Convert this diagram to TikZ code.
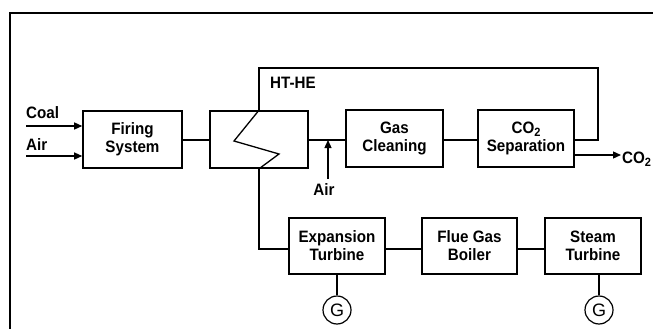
\documentclass[tikz,border=0pt]{standalone}
\usepackage{fontspec}
\setmainfont[FakeStretch=0.92]{Liberation Sans}
\newfontfamily\gfont{Liberation Sans}
\usetikzlibrary{arrows.meta}
\newcommand{\subtwo}{\raisebox{-0.35ex}{\fontsize{12}{12}\selectfont\bfseries 2}}
\begin{document}
\begin{tikzpicture}[x=1pt,y=-1pt,
  box/.style={draw,line width=1.6pt,minimum width=97pt,minimum height=57pt,align=center,inner sep=0pt,
    font=\fontsize{16.5}{18}\selectfont\bfseries},
  lbl/.style={inner sep=0pt,font=\fontsize{16.5}{18}\selectfont\bfseries},
  conn/.style={line width=1.3pt},
  arr/.style={line width=1.3pt,-{Triangle[length=8pt,width=7pt]}},
  gen/.style={draw,circle,line width=1.2pt,minimum size=28pt,inner sep=0pt,font=\gfont\fontsize{18}{18}\selectfont}]
\useasboundingbox (0,0) rectangle (653,329);
\draw[line width=2pt] (10,329) -- (10,13) -- (653,13);
% boxes
\node[box,minimum width=99pt] (fire) at (132.5,139.5) {Firing\\System};
\node[box,minimum width=98pt] (hthe) at (259,139.5) {};
\node[box] (gas) at (394.5,138.5) {Gas\\Cleaning};
\node[box,minimum width=96pt] (sep) at (526,138.5) {CO\subtwo\\Separation};
\node[box,minimum width=96pt,minimum height=56pt] (exp) at (337,246) {Expansion\\Turbine};
\node[box,minimum width=95pt,minimum height=56pt] (flue) at (469.5,246) {Flue Gas\\Boiler};
\node[box,minimum width=96pt,minimum height=56pt] (steam) at (593,246) {Steam\\Turbine};
\node[gen] (g1) at (337,310) {G};
\node[gen] (g2) at (599,310) {G};
% labels
\node[lbl,anchor=west] (coal) at (26,113) {Coal};
\node[lbl,anchor=west] (airl) at (26,145) {Air};
\node[lbl,anchor=west] (htl) at (270,83) {HT-HE};
\node[lbl] (air2) at (324,190) {Air};
\node[lbl,anchor=west] (co2) at (622,159) {CO\subtwo};
\coordinate (c1) at (26,126);
\coordinate (c2) at (26,156);
\coordinate (airs) at (328,179);
\coordinate (airj) at (328,140);
\coordinate (fb1) at (598,140);
\coordinate (fb2) at (598,68);
\coordinate (fb3) at (259,68);
\coordinate (lo1) at (259,249);
\coordinate (co2e) at (621,155);
% connectors
\draw[arr] (c1) -- (c1 -| fire.west);
\draw[arr] (c2) -- (c2 -| fire.west);
\draw[conn] (fire.east |- 0,140) -- (hthe.west |- 0,140);
\draw[conn] (hthe.east |- 0,140) -- (gas.west |- 0,140);
\draw[conn] (gas.east |- 0,140) -- (sep.west |- 0,140);
\draw[arr] (airs) -- (airj);
\draw[conn] (sep.east |- fb1) -- (fb1) -- (fb2) -- (fb3) -- (hthe.north);
\draw[arr] (sep.east |- co2e) -- (co2e);
\draw[conn] (hthe.north) -- (234,141) -- (279,154) -- (hthe.south);
\draw[conn] (hthe.south) -- (lo1) -- (lo1 -| exp.west);
\draw[conn] (exp.east |- 0,249) -- (flue.west |- 0,249);
\draw[conn] (flue.east |- 0,249) -- (steam.west |- 0,249);
\draw[conn] (exp.south) -- (g1.north);
\draw[conn] (steam.south -| g2.north) -- (g2.north);
\end{tikzpicture}
\end{document}
